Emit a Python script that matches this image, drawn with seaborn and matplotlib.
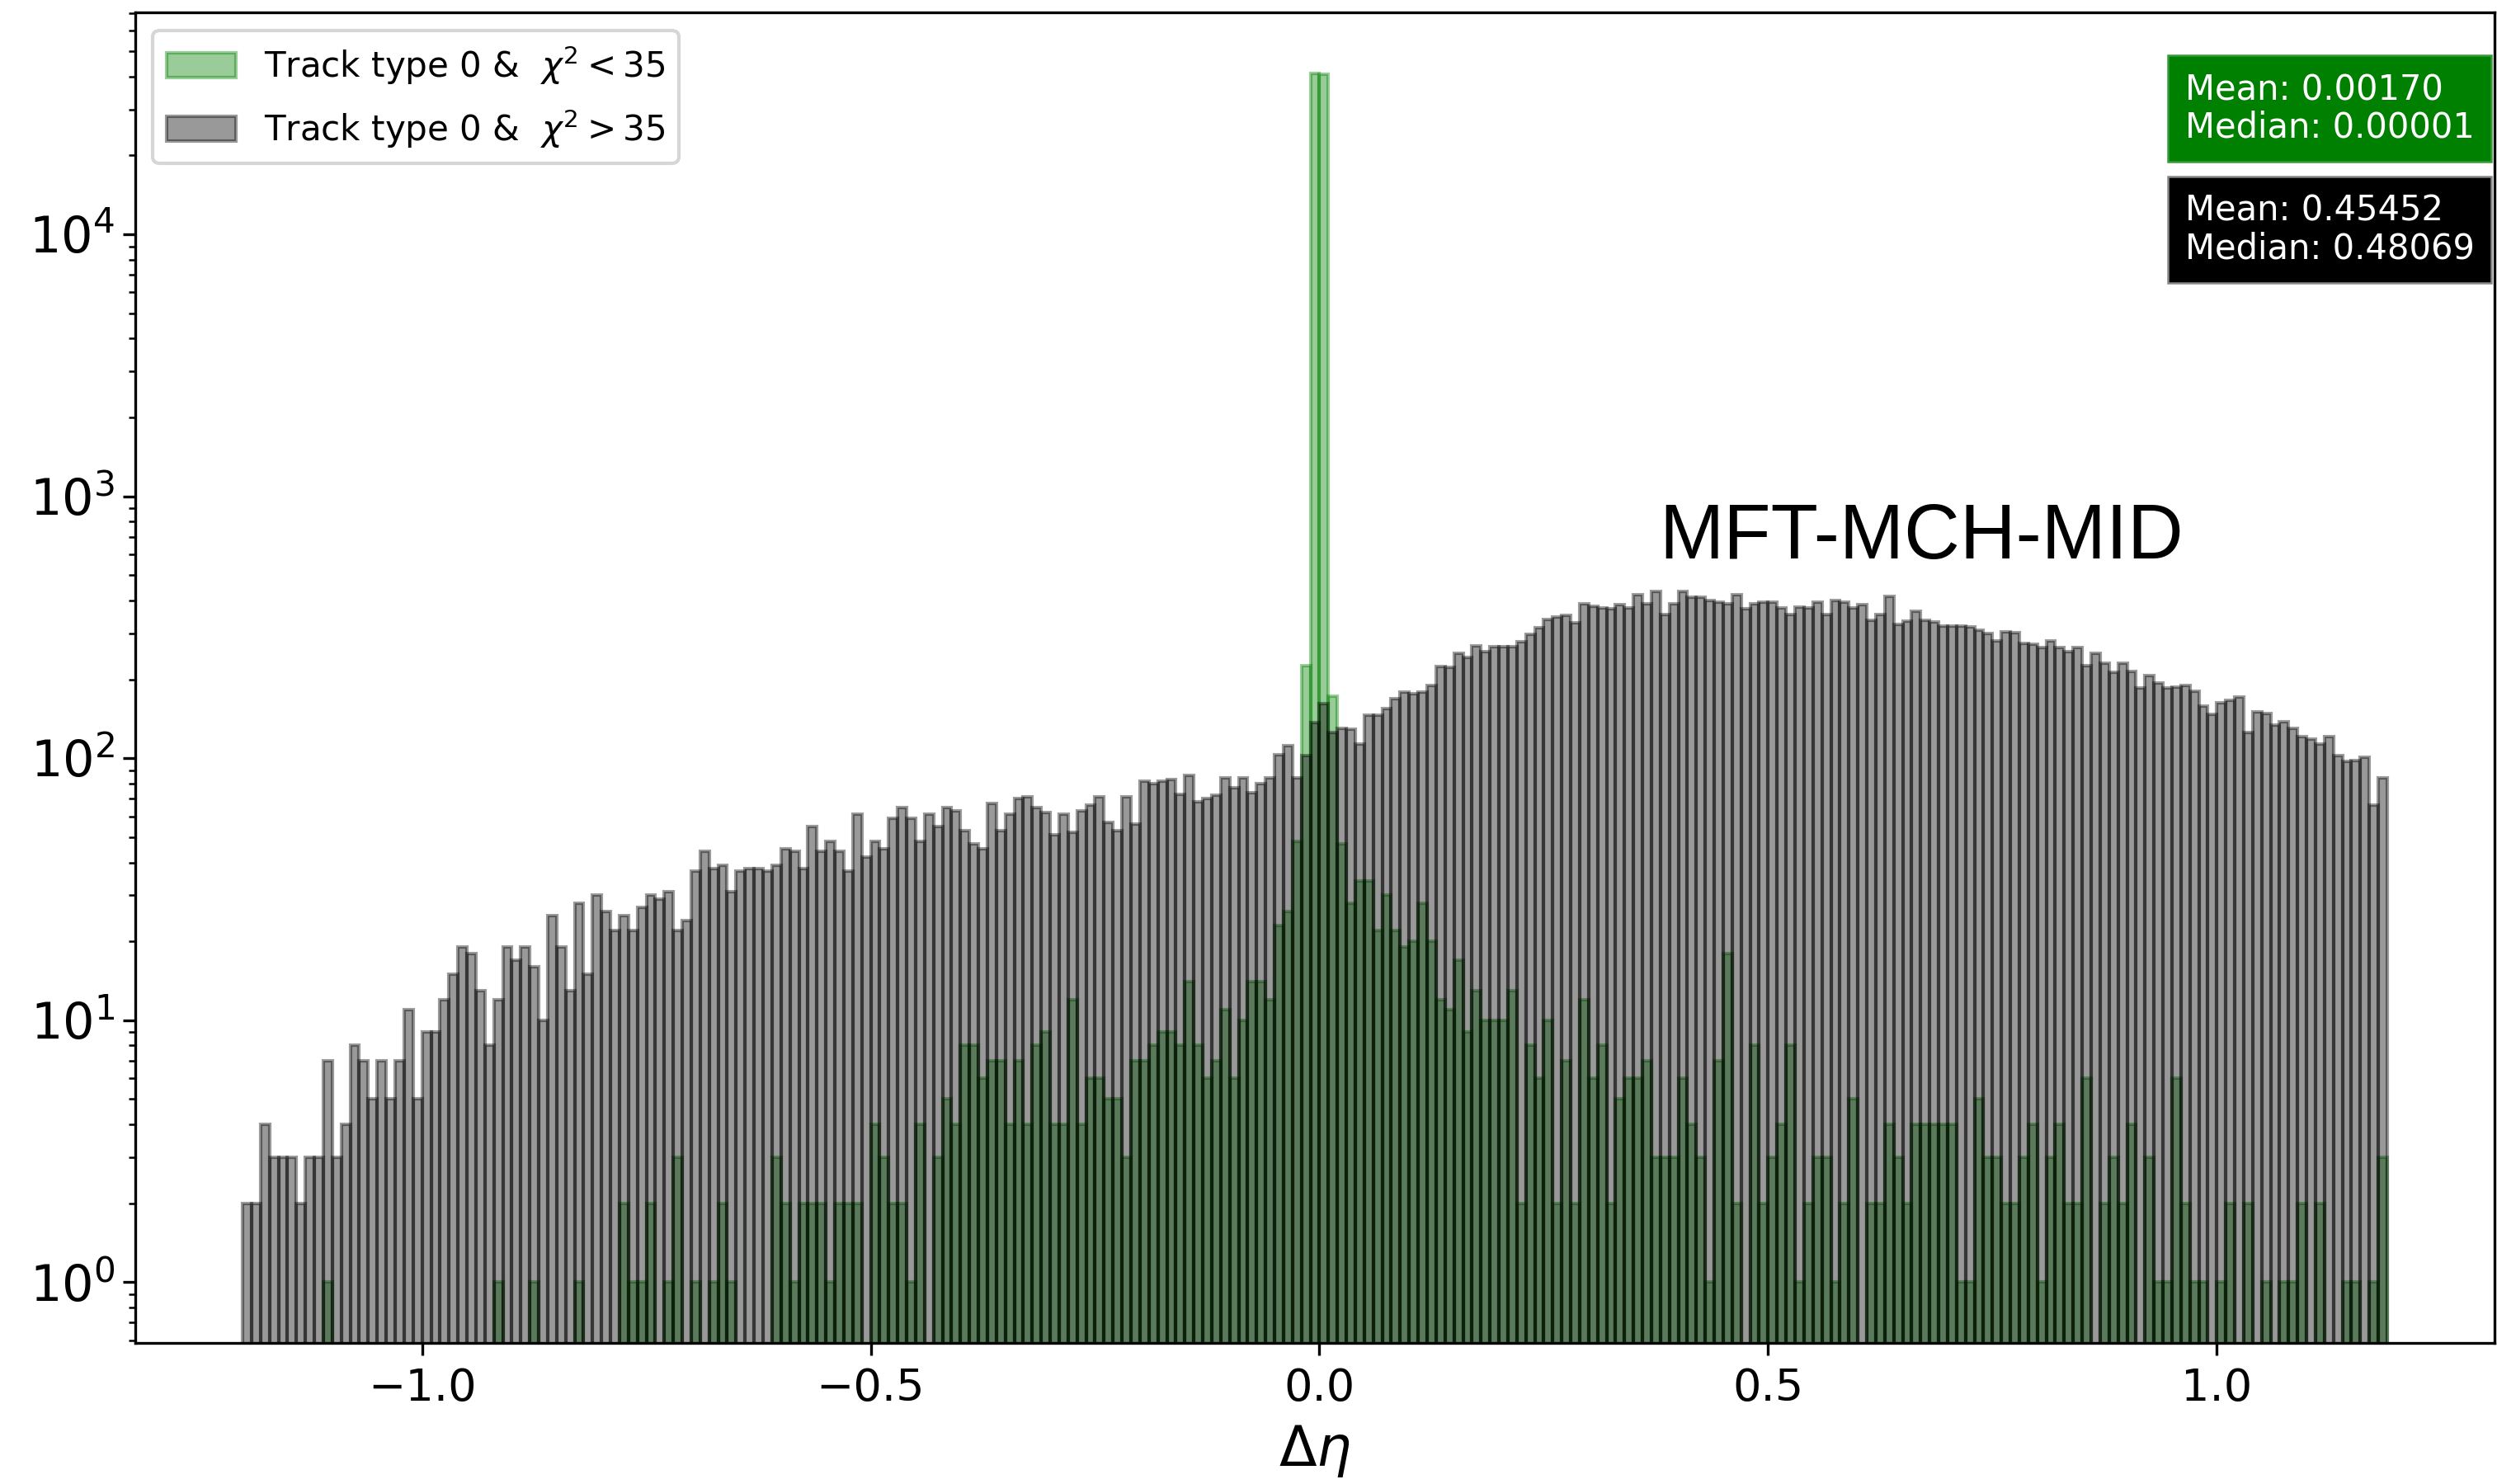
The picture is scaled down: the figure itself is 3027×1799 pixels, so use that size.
import numpy as np
import matplotlib
matplotlib.use("Agg")
import matplotlib.pyplot as plt
import seaborn as sns

# Delta-eta binning: 0.01 wide bins from -1.2 to 1.19
bin_edges = np.round(np.linspace(-1.2, 1.19, 240), 3)
bin_centers = bin_edges[:-1] + 0.005

# Counts per bin, chi2 > 35 (matched MFT-MCH-MID tracks, grey)
counts_high_chi2 = [
    2, 2, 4, 3, 3, 3, 2, 3, 3, 7, 3, 4, 8, 7, 5, 7, 5, 7, 11, 5,
    9, 9, 12, 15, 19, 18, 13, 8, 12, 19, 17, 19, 16, 10, 25, 19, 13, 28, 15, 30,
    26, 22, 25, 22, 27, 30, 29, 31, 22, 24, 37, 44, 38, 39, 31, 37, 38, 38, 37, 39,
    45, 44, 38, 55, 44, 48, 44, 37, 61, 42, 48, 45, 59, 65, 59, 48, 61, 55, 65, 63,
    53, 47, 45, 67, 53, 61, 70, 71, 65, 62, 51, 61, 52, 63, 66, 71, 57, 53, 71, 56,
    82, 80, 82, 83, 73, 86, 68, 70, 72, 84, 77, 84, 74, 80, 84, 103, 112, 84, 102, 137,
    162, 125, 130, 129, 113, 146, 146, 155, 169, 179, 176, 179, 189, 224, 222, 251, 242, 269, 256, 266,
    266, 266, 278, 296, 315, 338, 345, 352, 328, 388, 380, 375, 372, 386, 375, 420, 388, 434, 354, 388,
    434, 412, 412, 400, 394, 388, 420, 372, 388, 394, 394, 375, 354, 378, 375, 394, 354, 400, 394, 375,
    386, 337, 354, 414, 325, 333, 365, 337, 330, 319, 319, 320, 316, 308, 299, 280, 303, 301, 274, 272,
    264, 280, 264, 256, 264, 225, 251, 231, 213, 231, 215, 186, 206, 194, 186, 187, 189, 180, 158, 147,
    163, 166, 171, 125, 150, 148, 134, 138, 130, 121, 118, 113, 121, 102, 97, 98, 101, 66, 84,
]

# Counts per bin, chi2 < 35 (green)
counts_low_chi2 = [
    0, 0, 0, 0, 0, 0, 0, 0, 0, 1, 0, 0, 0, 0, 0, 0, 0, 0, 0, 0,
    0, 0, 0, 0, 0, 0, 0, 0, 1, 0, 0, 0, 1, 0, 0, 0, 0, 1, 0, 0,
    0, 0, 2, 1, 1, 2, 0, 1, 3, 0, 1, 0, 1, 2, 1, 0, 0, 0, 0, 3,
    2, 1, 2, 2, 2, 1, 2, 2, 2, 0, 4, 3, 2, 2, 1, 4, 0, 3, 5, 4,
    8, 8, 6, 7, 7, 4, 7, 4, 8, 9, 4, 4, 12, 4, 6, 6, 5, 5, 3, 7,
    7, 8, 9, 9, 8, 14, 8, 6, 7, 11, 6, 10, 14, 14, 12, 23, 26, 48, 226, 41200,
    40800, 172, 47, 28, 34, 34, 22, 30, 22, 19, 20, 28, 20, 12, 11, 17, 9, 13, 10, 10,
    10, 13, 2, 8, 6, 10, 2, 7, 2, 12, 6, 8, 2, 5, 6, 6, 7, 3, 3, 3,
    6, 4, 3, 1, 7, 18, 2, 0, 8, 2, 3, 4, 8, 1, 2, 3, 3, 1, 2, 5,
    0, 2, 2, 4, 3, 2, 4, 4, 4, 4, 4, 1, 1, 5, 3, 3, 2, 2, 3, 4,
    1, 3, 4, 2, 2, 6, 0, 2, 3, 2, 4, 0, 3, 1, 1, 6, 2, 1, 1, 0,
    1, 2, 0, 2, 0, 1, 0, 1, 1, 2, 0, 2, 0, 0, 1, 1, 0, 1, 3,
]

legend_labels = [r"Track type 0 &  $\chi^2 < 35$", r"Track type 0 &  $\chi^2 > 35$"]
stats_low = "Mean: 0.00170\nMedian: 0.00001"
stats_high = "Mean: 0.45452\nMedian: 0.48069"
detector_label = "MFT-MCH-MID"

fig = plt.figure(figsize=(3027 / 300, 1799 / 300), dpi=300)
ax = fig.add_axes([0.0542, 0.0953, 0.9448, 0.8961])

edges_list = bin_edges.tolist()
sns.histplot(
    x=bin_centers, weights=np.asarray(counts_low_chi2, dtype=float), bins=edges_list, ax=ax,
    color="green", facecolor=(0.0, 0.5, 0.0, 0.4), edgecolor=(0.0, 0.5, 0.0, 0.4),
    linewidth=1.0, label=legend_labels[0],
)
sns.histplot(
    x=bin_centers, weights=np.asarray(counts_high_chi2, dtype=float), bins=edges_list, ax=ax,
    color="black", facecolor=(0.0, 0.0, 0.0, 0.4), edgecolor=(0.0, 0.0, 0.0, 0.4),
    linewidth=1.0, label=legend_labels[1],
)

ax.set_yscale("log")
ax.set_ylabel("")
ax.set_xlabel(r"$\Delta\eta$", fontsize=16)
ax.tick_params(axis="x", which="major", labelsize=13)
ax.tick_params(axis="y", which="major", labelsize=14.5, pad=2.5)

ax.legend(loc="upper left", fontsize=10.1, labelspacing=0.6)

ax.text(0.9915, 0.955, stats_low, transform=ax.transAxes, ha="right", va="top",
        multialignment="left", linespacing=1.1, color="white", fontsize=10,
        bbox=dict(boxstyle="square,pad=0.5", facecolor="green", edgecolor="#3a9a3a", linewidth=0.6))
ax.text(0.9915, 0.864, stats_high, transform=ax.transAxes, ha="right", va="top",
        multialignment="left", linespacing=1.1, color="white", fontsize=10,
        bbox=dict(boxstyle="square,pad=0.5", facecolor="black", edgecolor="#888888", linewidth=0.6))

ax.text(0.646, 0.5894, detector_label, transform=ax.transAxes, ha="left", va="baseline",
        fontsize=22.5, family="Liberation Sans", color="black")

fig.savefig("out.png", dpi=300)
